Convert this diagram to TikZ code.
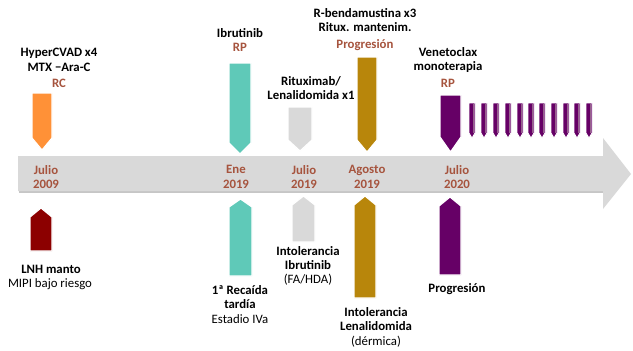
\documentclass[tikz,border=0pt]{standalone}
\usepackage{fontspec}
\setmainfont{Carlito}
\definecolor{bandgray}{RGB}{217,217,217}
\definecolor{shadowgray}{RGB}{160,160,160}
\definecolor{brownt}{RGB}{166,84,62}
\definecolor{orangeA}{RGB}{255,145,55}
\definecolor{tealA}{RGB}{95,201,184}
\definecolor{grayA}{RGB}{217,217,217}
\definecolor{goldA}{RGB}{184,134,11}
\definecolor{purpA}{RGB}{102,0,102}
\definecolor{mauveA}{RGB}{150,100,140}
\definecolor{redA}{RGB}{140,0,0}
\newcommand\downpent[6]{\fill[#6,draw=white,line width=1.2pt] (#1,#3) -- (#2,#3) -- (#2,#4) -- ({(#1+#2)/2},#5) -- (#1,#4) -- cycle;}
\newcommand\uppent[6]{\fill[#6,draw=white,line width=1.2pt] (#1,#5) -- (#1,#4) -- ({(#1+#2)/2},#3) -- (#2,#4) -- (#2,#5) -- cycle;}
\newcommand\smallbar[1]{%
  \fill[purpA,draw=white,line width=0.8pt] ({#1-3},103) -- ({#1+3},103) -- ({#1+3},133) -- (#1,138) -- ({#1-3},133) -- cycle;
  \fill[mauveA] ({#1+0.6},103.6) rectangle ({#1+2.4},132.5);}
\tikzset{
  lbl/.style={font=\fontsize{12.8}{14.5}\selectfont\bfseries, align=center, inner sep=0pt, text=black},
  lblr/.style={font=\fontsize{12.8}{14.5}\selectfont, align=center, inner sep=0pt, text=black},
  brn/.style={font=\fontsize{12.8}{14.5}\selectfont\bfseries, align=center, inner sep=0pt, text=brownt},
}
\begin{document}
\begin{tikzpicture}[x=1pt,y=-1pt]
\useasboundingbox (0,0) rectangle (633,351);
% band with shadow
\fill[shadowgray,opacity=0.6] (19,158) -- (603,158) -- (603,193) -- (19,193) -- cycle;
\fill[bandgray] (18,156) -- (603,156) -- (603,138) -- (631,174) -- (603,209) -- (603,191) -- (18,191) -- cycle;
% down arrows
\downpent{32}{52}{93}{138}{150}{orangeA}
\downpent{229}{251}{63}{143}{154}{tealA}
\downpent{288}{312}{107}{140}{151}{grayA}
\downpent{357}{377}{57}{140}{152}{goldA}
\downpent{440}{461}{95}{137}{152}{purpA}
\foreach \cx in {472,484,496,508,520,531,542,554,566,577,589} {\smallbar{\cx}}
% up arrows
\uppent{30}{52}{208}{217}{251}{redA}
\uppent{229}{252}{199}{207}{276}{tealA}
\uppent{292}{315}{196}{205}{242}{grayA}
\uppent{354}{376}{196}{205}{298}{goldA}
\uppent{439}{461}{197}{206}{275}{purpA}
% top labels
\node[lbl] (t1) at (59,60) {HyperCVAD x4\\MTX −Ara-C};
\node[brn] (t1b) at (59,83) {RC};
\node[lbl] (t2) at (240,33) {Ibrutinib};
\node[brn] (t2b) at (240,47) {RP};
\node[lbl] (t3) at (311,88) {Rituximab/\\Lenalidomida x1};
\node[lbl] (t4) at (365,20) {R-bendamustina x3\\Ritux. mantenim.};
\node[brn] (t4b) at (365,45) {Progresión};
\node[lbl] (t5) at (448,60) {Venetoclax\\monoterapia};
\node[brn] (t5b) at (448,83) {RP};
% dates
\node[brn] (d1) at (46,177) {Julio\\2009};
\node[brn] (d2) at (236,177) {Ene\\2019};
\node[brn] (d3) at (304,177) {Julio\\2019};
\node[brn] (d4) at (367,177) {Agosto\\2019};
\node[brn] (d5) at (457,177) {Julio\\2020};
% bottom labels
\node[lbl] (b1) at (51,269) {LNH manto};
\node[lblr] (b1b) at (50,284) {MIPI bajo riesgo};
\node[lbl] (b2) at (240,297) {1ª Recaída\\tardía};
\node[lblr] (b2b) at (240,319) {Estadio IVa};
\node[lbl] (b3) at (308,258) {Intolerancia\\Ibrutinib};
\node[lblr] (b3b) at (308,280) {(FA/HDA)};
\node[lbl] (b4) at (376,319) {Intolerancia\\Lenalidomida};
\node[lblr] (b4b) at (376,342) {(dérmica)};
\node[lbl] (b5) at (457,289) {Progresión};
\end{tikzpicture}
\end{document}
